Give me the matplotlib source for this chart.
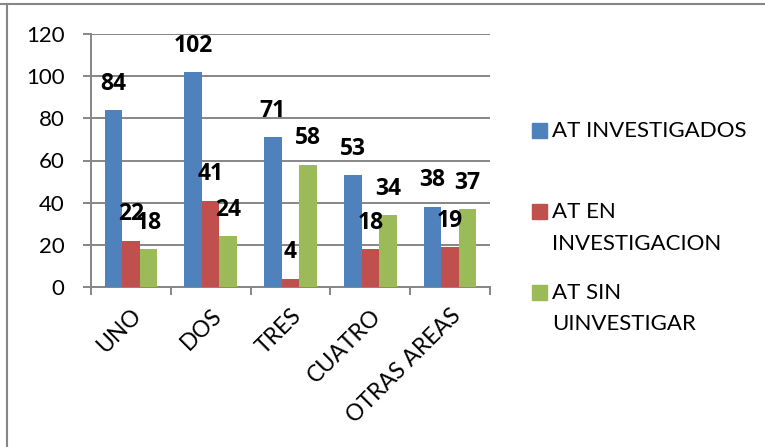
import matplotlib
matplotlib.use("Agg")
import numpy as np
import matplotlib.pyplot as plt
from matplotlib.patches import Rectangle
from matplotlib.lines import Line2D

# categories and counts per area
areas = ["UNO", "DOS", "TRES", "CUATRO", "OTRAS AREAS"]
investigados = [84, 102, 71, 53, 38]
en_investigacion = [22, 41, 4, 18, 19]
sin_investigar = [18, 24, 58, 34, 37]
series_names = ["AT INVESTIGADOS", "AT EN\nINVESTIGACION", "AT SIN\nUINVESTIGAR"]
y_ticks = [0, 20, 40, 60, 80, 100, 120]

colors = ["#4F81BD", "#C0504D", "#9BBB59"]
grid_gray = "#868686"

plt.rcParams['font.family'] = ['Lato', 'DejaVu Sans']

W, H = 765, 447
fig = plt.figure(figsize=(W / 100, H / 100), dpi=100)
ax = fig.add_axes([91 / W, 1 - 287 / H, 399 / W, 253 / H])

x = np.arange(len(areas))
bw = 0.22
for j, vals in enumerate([investigados, en_investigacion, sin_investigar]):
    xs = x + (j - 1) * bw
    ax.bar(xs, vals, width=bw, color=colors[j], zorder=3)
    for xi, v in zip(xs, vals):
        ax.annotate(str(v), (xi, v), xytext=(0, 19), textcoords='offset points',
                    ha='center', va='center', fontsize=16.5, fontweight='bold',
                    family=['Open Sans', 'DejaVu Sans'], zorder=4)

ax.set_xlim(-0.5, len(areas) - 0.5)
ax.set_ylim(0, 120)
ax.set_yticks(y_ticks)
ax.yaxis.grid(True, color=grid_gray, linewidth=1.4, zorder=0)
ax.set_axisbelow(True)

# category boundaries carry the tick marks, labels sit at the centres
ax.set_xticks(np.arange(len(areas) + 1) - 0.5)
ax.set_xticklabels([])
ax.set_xticks(x, minor=True)
ax.set_xticklabels(areas, minor=True, rotation=45, ha='right',
                   rotation_mode='anchor', fontsize=16.5)
ax.tick_params(axis='x', which='minor', length=0, pad=13)
ax.tick_params(axis='x', which='major', length=6, width=1.4, color=grid_gray)
ax.tick_params(axis='y', length=6, width=1.4, color=grid_gray, labelsize=16, pad=13)

for side in ['top', 'right']:
    ax.spines[side].set_visible(False)
for side in ['left', 'bottom']:
    ax.spines[side].set_color(grid_gray)
    ax.spines[side].set_linewidth(1.4)

# legend on the right, handle aligned with the first line of each label
tops = [123, 204, 285]
for name, col, top in zip(series_names, colors, tops):
    fig.add_artist(Rectangle((532 / W, 1 - (top + 15) / H), 15 / W, 15 / H,
                             transform=fig.transFigure, color=col))
    for k, line in enumerate(name.split("\n")):
        fig.text(552 / W, 1 - (top + 8 + k * 31.5) / H, line, fontsize=16,
                 ha='left', va='center')

# frame of the chart area
fig.add_artist(Line2D([0, 1], [1 - 4 / H] * 2, transform=fig.transFigure,
                      color=grid_gray, linewidth=1.5))
fig.add_artist(Line2D([7 / W] * 2, [0, 1 - 4 / H], transform=fig.transFigure,
                      color=grid_gray, linewidth=1.5))

fig.savefig("out.png", dpi=100)
